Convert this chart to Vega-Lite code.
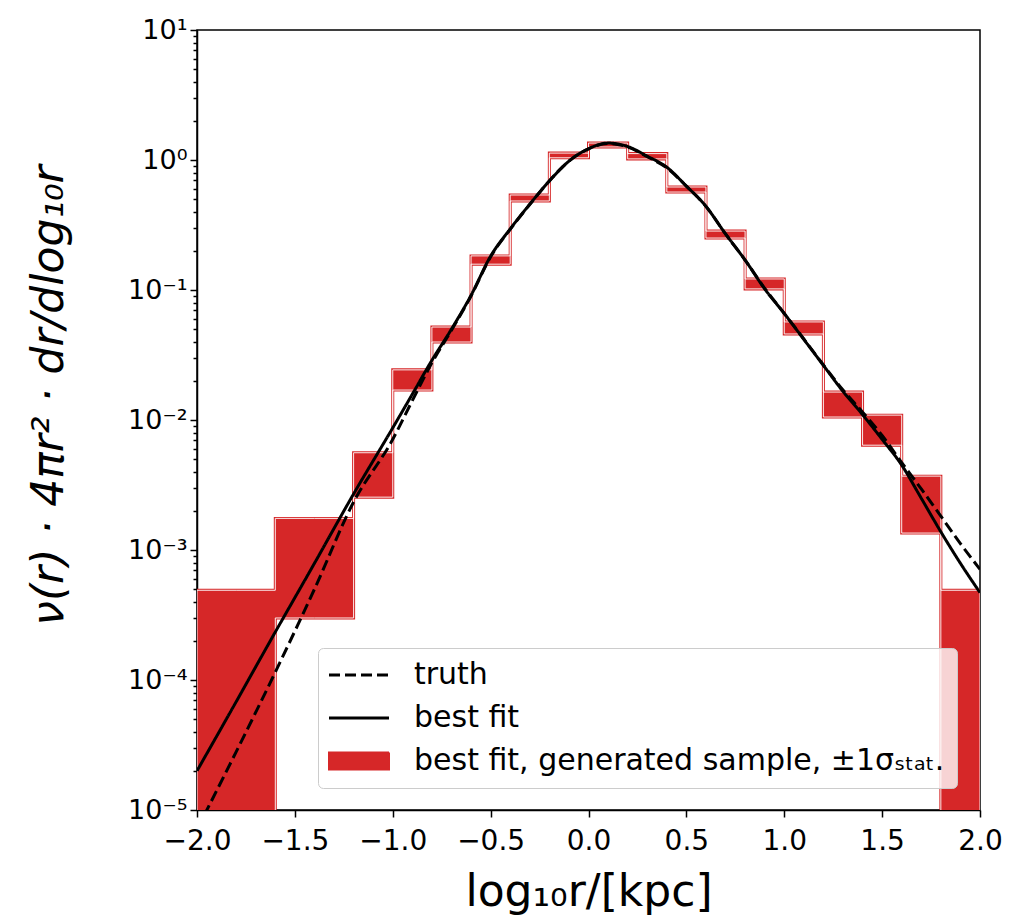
{
  "$schema": "https://vega.github.io/schema/vega-lite/v6.json",
  "width": 783,
  "height": 780,
  "autosize": "none",
  "padding": {"left": 197, "top": 30, "right": 38, "bottom": 113},
  "background": "white",
  "config": {
    "font": "DejaVu Sans",
    "view": {"stroke": "black", "strokeWidth": 1.5},
    "legend": {
      "orient": "none",
      "legendX": 121,
      "legendY": 618,
      "title": null,
      "direction": "vertical",
      "labelFont": "DejaVu Sans",
      "labelFontSize": 30,
      "labelColor": "black",
      "labelLimit": 0,
      "labelOffset": 40,
      "symbolOffset": 14,
      "symbolType": "stroke",
      "symbolSize": 3600,
      "rowPadding": 13,
      "padding": 12,
      "fillColor": "rgba(255,255,255,0.8)",
      "strokeColor": "#cccccc",
      "cornerRadius": 5
    }
  },
  "datasets": {
    "bands": [
      {"x": -2.0, "lower": 0.000001, "upper": 0.00049},
      {"x": -1.8, "lower": 0.000001, "upper": 0.00049},
      {"x": -1.6, "lower": 0.0003, "upper": 0.00175},
      {"x": -1.4, "lower": 0.0003, "upper": 0.00175},
      {"x": -1.2, "lower": 0.00255, "upper": 0.0056},
      {"x": -1.0, "lower": 0.017, "upper": 0.0243},
      {"x": -0.8, "lower": 0.0398, "upper": 0.0519},
      {"x": -0.6, "lower": 0.158, "upper": 0.183},
      {"x": -0.4, "lower": 0.484, "upper": 0.538},
      {"x": -0.2, "lower": 1.04, "upper": 1.13},
      {"x": 0.0, "lower": 1.26, "upper": 1.35},
      {"x": 0.2, "lower": 1.02, "upper": 1.12},
      {"x": 0.4, "lower": 0.567, "upper": 0.62},
      {"x": 0.6, "lower": 0.251, "upper": 0.284},
      {"x": 0.8, "lower": 0.102, "upper": 0.1216},
      {"x": 1.0, "lower": 0.0459, "upper": 0.0568},
      {"x": 1.2, "lower": 0.01054, "upper": 0.0164},
      {"x": 1.4, "lower": 0.0064, "upper": 0.0109},
      {"x": 1.6, "lower": 0.00135, "upper": 0.0037},
      {"x": 1.8, "lower": 0.000001, "upper": 0.00049},
      {"x": 2.0, "lower": 0.000001, "upper": 0.00049}
    ],
    "curves": [
      {"series": "best fit", "x": -2.0, "y": 0.00002},
      {"series": "best fit", "x": -1.8, "y": 0.000068},
      {"series": "best fit", "x": -1.6, "y": 0.000234},
      {"series": "best fit", "x": -1.4, "y": 0.00079},
      {"series": "best fit", "x": -1.2, "y": 0.0027},
      {"series": "best fit", "x": -1.0, "y": 0.0087},
      {"series": "best fit", "x": -0.9, "y": 0.0158},
      {"series": "best fit", "x": -0.8, "y": 0.0288},
      {"series": "best fit", "x": -0.7, "y": 0.05},
      {"series": "best fit", "x": -0.6, "y": 0.091},
      {"series": "best fit", "x": -0.5, "y": 0.182},
      {"series": "best fit", "x": -0.4, "y": 0.295},
      {"series": "best fit", "x": -0.3, "y": 0.457},
      {"series": "best fit", "x": -0.2, "y": 0.69},
      {"series": "best fit", "x": -0.1, "y": 0.98},
      {"series": "best fit", "x": 0.0, "y": 1.22},
      {"series": "best fit", "x": 0.1, "y": 1.35},
      {"series": "best fit", "x": 0.2, "y": 1.27},
      {"series": "best fit", "x": 0.3, "y": 1.07},
      {"series": "best fit", "x": 0.4, "y": 0.88},
      {"series": "best fit", "x": 0.5, "y": 0.63},
      {"series": "best fit", "x": 0.6, "y": 0.44},
      {"series": "best fit", "x": 0.7, "y": 0.27},
      {"series": "best fit", "x": 0.8, "y": 0.17},
      {"series": "best fit", "x": 0.9, "y": 0.102},
      {"series": "best fit", "x": 1.0, "y": 0.066},
      {"series": "best fit", "x": 1.1, "y": 0.0417},
      {"series": "best fit", "x": 1.2, "y": 0.0263},
      {"series": "best fit", "x": 1.3, "y": 0.0166},
      {"series": "best fit", "x": 1.4, "y": 0.011},
      {"series": "best fit", "x": 1.5, "y": 0.0071},
      {"series": "best fit", "x": 1.6, "y": 0.0045},
      {"series": "best fit", "x": 1.7, "y": 0.0025},
      {"series": "best fit", "x": 1.8, "y": 0.00138},
      {"series": "best fit", "x": 1.9, "y": 0.00079},
      {"series": "best fit", "x": 2.0, "y": 0.00047},
      {"series": "truth", "x": -2.0, "y": 0.0000071},
      {"series": "truth", "x": -1.8, "y": 0.000028},
      {"series": "truth", "x": -1.6, "y": 0.000115},
      {"series": "truth", "x": -1.4, "y": 0.0005},
      {"series": "truth", "x": -1.2, "y": 0.00234},
      {"series": "truth", "x": -1.0, "y": 0.0071},
      {"series": "truth", "x": -0.9, "y": 0.0141},
      {"series": "truth", "x": -0.8, "y": 0.0275},
      {"series": "truth", "x": -0.7, "y": 0.049},
      {"series": "truth", "x": -0.6, "y": 0.09},
      {"series": "truth", "x": -0.5, "y": 0.18},
      {"series": "truth", "x": -0.4, "y": 0.293},
      {"series": "truth", "x": -0.3, "y": 0.455},
      {"series": "truth", "x": -0.2, "y": 0.69},
      {"series": "truth", "x": -0.1, "y": 0.98},
      {"series": "truth", "x": 0.0, "y": 1.22},
      {"series": "truth", "x": 0.1, "y": 1.34},
      {"series": "truth", "x": 0.2, "y": 1.26},
      {"series": "truth", "x": 0.3, "y": 1.06},
      {"series": "truth", "x": 0.4, "y": 0.87},
      {"series": "truth", "x": 0.5, "y": 0.63},
      {"series": "truth", "x": 0.6, "y": 0.44},
      {"series": "truth", "x": 0.7, "y": 0.27},
      {"series": "truth", "x": 0.8, "y": 0.17},
      {"series": "truth", "x": 0.9, "y": 0.103},
      {"series": "truth", "x": 1.0, "y": 0.066},
      {"series": "truth", "x": 1.1, "y": 0.042},
      {"series": "truth", "x": 1.2, "y": 0.0265},
      {"series": "truth", "x": 1.3, "y": 0.017},
      {"series": "truth", "x": 1.4, "y": 0.0115},
      {"series": "truth", "x": 1.5, "y": 0.0076},
      {"series": "truth", "x": 1.6, "y": 0.0047},
      {"series": "truth", "x": 1.7, "y": 0.00295},
      {"series": "truth", "x": 1.8, "y": 0.00182},
      {"series": "truth", "x": 1.9, "y": 0.00112},
      {"series": "truth", "x": 2.0, "y": 0.00071}
    ]
  },
  "layer": [
    {
      "data": {"name": "bands"},
      "mark": {"type": "area", "interpolate": "step-after", "fill": "#d62728", "stroke": "#d62728", "strokeWidth": 3, "clip": true},
      "encoding": {
        "x": {
          "field": "x", "type": "quantitative",
          "scale": {"domain": [-2, 2], "nice": false, "zero": false},
          "axis": {
            "title": "log₁₀r/[kpc]",
            "values": [-2, -1.5, -1, -0.5, 0, 0.5, 1, 1.5, 2],
            "labelExpr": "replace(format(datum.value, '.1f'), '-', '−')",
            "labelFontSize": 28,
            "labelColor": "black",
            "labelPadding": 10,
            "labelFlush": false,
            "labelOverlap": false,
            "tickSize": 7,
            "tickWidth": 1.5,
            "tickColor": "black",
            "domainColor": "black",
            "domainWidth": 1.5,
            "grid": false,
            "titleFontSize": 44,
            "titleFontWeight": "normal",
            "titleColor": "black",
            "titleBaseline": "alphabetic",
            "titleY": 95
          }
        },
        "y": {
          "field": "upper", "type": "quantitative",
          "scale": {"type": "log", "domain": [0.00001, 10], "nice": false},
          "axis": {
            "title": "ν(r) · 4πr² · dr/dlog₁₀r",
            "values": [0.00001, 0.00002, 0.00003, 0.00004, 0.00005, 0.00006, 0.00007, 0.00008, 0.00009,
                       0.0001, 0.0002, 0.0003, 0.0004, 0.0005, 0.0006, 0.0007, 0.0008, 0.0009,
                       0.001, 0.002, 0.003, 0.004, 0.005, 0.006, 0.007, 0.008, 0.009,
                       0.01, 0.02, 0.03, 0.04, 0.05, 0.06, 0.07, 0.08, 0.09,
                       0.1, 0.2, 0.3, 0.4, 0.5, 0.6, 0.7, 0.8, 0.9,
                       1, 2, 3, 4, 5, 6, 7, 8, 9, 10],
            "labelExpr": "datum.value == 10 ? '10¹' : datum.value == 1 ? '10⁰' : datum.value == 0.1 ? '10⁻¹' : datum.value == 0.01 ? '10⁻²' : datum.value == 0.001 ? '10⁻³' : datum.value == 0.0001 ? '10⁻⁴' : datum.value == 0.00001 ? '10⁻⁵' : ''",
            "labelFontSize": 27,
            "labelColor": "black",
            "labelPadding": 3,
            "labelFlush": false,
            "labelOverlap": false,
            "tickSize": {"condition": {"test": "indexof([10, 1, 0.1, 0.01, 0.001, 0.0001, 0.00001], datum.value) >= 0", "value": 7}, "value": 4},
            "tickWidth": 1.5,
            "tickColor": "black",
            "domainColor": "black",
            "domainWidth": 1.5,
            "grid": false,
            "titleFontSize": 44,
            "titleFontWeight": "normal",
            "titleFontStyle": "italic",
            "titleColor": "black",
            "titleBaseline": "middle",
            "titleX": -148,
            "titleY": 365
          }
        },
        "y2": {"field": "lower"}
      }
    },
    {
      "data": {"name": "bands"},
      "mark": {"type": "area", "interpolate": "step-after", "fillOpacity": 0, "stroke": "white", "strokeWidth": 1, "strokeOpacity": 0.9, "clip": true},
      "encoding": {
        "x": {"field": "x", "type": "quantitative"},
        "y": {"field": "upper", "type": "quantitative"},
        "y2": {"field": "lower"}
      }
    },
    {
      "data": {"name": "curves"},
      "mark": {"type": "line", "interpolate": "monotone", "clip": true, "strokeWidth": 3},
      "encoding": {
        "x": {"field": "x", "type": "quantitative"},
        "y": {"field": "y", "type": "quantitative"},
        "detail": {"field": "series"},
        "color": {
          "field": "series", "type": "nominal",
          "scale": {"domain": ["truth", "best fit", "best fit, generated sample, ±1σₛₜₐₜ."], "range": ["black", "black", "#d62728"]},
          "legend": {
            "encode": {
              "symbols": {"update": {
                "shape": {"signal": "datum.value == 'truth' || datum.value == 'best fit' ? 'M-1,0L1,0M0,-0.28L0,-0.28M0,0.28L0,0.28' : 'M-1,-0.28L1,-0.28L1,0.28L-1,0.28Z'"},
                "fill": {"signal": "datum.value == 'truth' || datum.value == 'best fit' ? 'transparent' : '#d62728'"},
                "strokeWidth": {"signal": "datum.value == 'truth' || datum.value == 'best fit' ? 3 : 2"}
              }}
            }
          }
        },
        "strokeDash": {
          "field": "series", "type": "nominal",
          "scale": {"domain": ["truth", "best fit", "best fit, generated sample, ±1σₛₜₐₜ."], "range": [[11, 5], [1, 0], [1, 0]]}
        }
      }
    }
  ]
}
